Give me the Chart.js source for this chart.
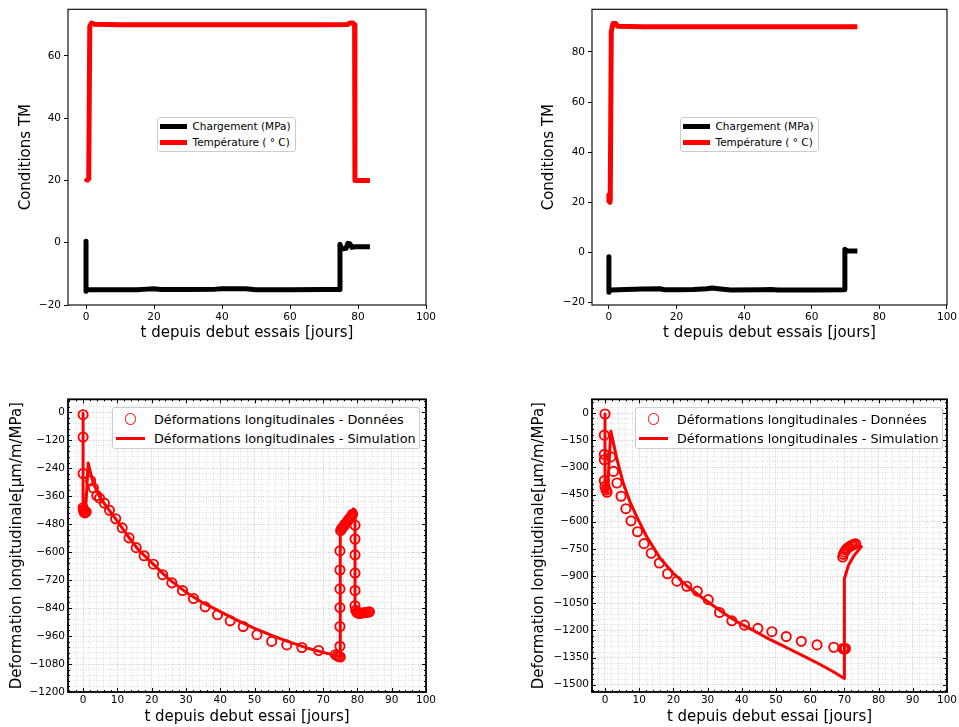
<!DOCTYPE html>
<html>
<head>
<meta charset="utf-8">
<script src="https://cdn.jsdelivr.net/npm/chart.js@4.4.1/dist/chart.umd.min.js"></script>
<style>
  body { margin: 0; background: #fff; }
  #page { position: relative; width: 959px; height: 727px; overflow: hidden; font-family: 'DejaVu Sans', sans-serif; }
  #page canvas { position: absolute; }
  .legend { position: absolute; background: #fff; border: 1px solid #cccccc; border-radius: 3px; box-sizing: border-box; color: #000; }
  .legend .sw, .legend .txt { position: absolute; }
  .legend .txt { white-space: nowrap; transform: translateY(-50%); }
</style>
</head>
<body>
<div id="page"></div>
<script>
// ---- top left : conditions TM, essai 1 ----
const tlLoadT = [0, 0, 0.4, 5, 10, 15, 18, 20, 22, 30, 38, 40, 47, 50, 60, 70, 74.7, 74.7, 75.2, 76.5, 77, 77.6, 78.2, 79, 83.5];
const tlLoadV = [0.5, -15.6, -15, -15.1, -15.1, -15.1, -14.9, -14.8, -15, -15, -14.9, -14.8, -14.8, -15.1, -15.1, -15, -15, -0.5, -2, -1.8, -0.2, -0.3, -1.5, -1.3, -1.3];
const tlTempT = [0, 0.3, 0.8, 1.1, 1.6, 2.5, 10, 30, 50, 70, 77, 77.6, 78.5, 79, 79.1, 80, 83.5];
const tlTempV = [19.5, 20.2, 20.5, 69.5, 70.6, 70.2, 70, 70, 70, 70, 70.1, 70.6, 70.6, 70, 20, 20, 20];

// ---- top right : conditions TM, essai 2 ----
const trLoadT = [0, 0, 0.5, 5, 10, 15, 16.5, 20, 25, 29, 30.5, 33, 36, 45, 48, 50, 60, 69.8, 69.8, 70.5, 73.5];
const trLoadV = [-1.7, -15.9, -15, -14.8, -14.6, -14.5, -14.9, -14.9, -14.8, -14.5, -14.2, -14.6, -15, -14.9, -14.8, -15, -15, -14.9, 1.2, 0.6, 0.5];
const trTempT = [0, 0, 0.3, 0.4, 0.7, 1.2, 2, 2.6, 10, 30, 50, 73.5];
const trTempV = [23, 20.5, 20, 21, 88, 91.3, 91.3, 90.2, 90, 90, 90, 90];

// ---- bottom left : deformations, essai 1 ----
const blDataT = [0, 0, 0, 0, 0.1, 0.2, 0.35, 0.5, 0.7, 0.9, 2.2, 3.0, 4.0, 4.8, 6.2, 7.7, 9.5, 11.4, 13.4, 15.5, 17.8, 20.5, 23.2, 25.9, 29.0, 32.2, 35.6, 39.2, 42.9, 46.7, 50.7, 55.0, 59.4, 63.8, 68.7,
  73.6, 74.1, 74.6, 75.0, 74.9, 74.9, 74.9, 74.9, 74.9, 74.9, 75.1, 75.4, 75.7, 76.0, 76.3, 76.6, 77.0, 77.3, 77.6, 78.0, 78.3, 78.6,
  79.3, 79.3, 79.3, 79.3, 79.3, 79.3, 79.5, 79.8, 80.2, 80.6, 81.0, 81.5, 82.0, 82.5, 83.0, 83.5];
const blDataV = [-11, -107, -263, -410, -418, -425, -430, -432, -430, -428, -294, -325, -358, -369, -390, -421, -457, -496, -539, -581, -616, -652, -697, -732, -765, -799, -835, -869, -895, -919, -954, -983, -998, -1009, -1022,
  -1040, -1045, -1048, -1050, -1004, -919, -838, -758, -677, -595, -508, -500, -495, -489, -483, -477, -470, -464, -458, -452, -446, -438,
  -485, -544, -612, -690, -765, -830, -850, -858, -862, -863, -862, -861, -860, -859, -858, -856];
const blSimT = [0, 0, 0.7, 1.5, 2.2, 3, 5, 7, 10, 13, 16, 20, 25, 30, 35, 40, 45, 50, 55, 60, 65, 70, 74.8, 75, 75, 78.8, 79.3, 79.3, 80, 83.5];
const blSimV = [-5, -430, -430, -218, -262, -305, -368, -408, -467, -530, -588, -645, -716, -772, -818, -855, -893, -927, -957, -985, -1010, -1030, -1048, -1050, -505, -415, -420, -865, -862, -858];

// ---- bottom right : deformations, essai 2 ----
const brDataT = [0, -0.2, -0.2, -0.2, -0.2, 0, 0.3, 0.6, 1.7, 2.5, 3.5, 4.7, 6.1, 7.6, 9.5, 11.4, 13.5, 15.9, 18.3, 21.0, 23.9, 27.0, 30.2, 33.5, 37.1, 40.8, 44.7, 48.8, 53.0, 57.4, 62.0, 66.9,
  69.6, 70.0, 70.3, 69.5, 69.7, 70.0, 70.4, 70.8, 71.3, 71.8, 72.3, 72.8, 73.3];
const brDataV = [-5, -122, -228, -258, -373, -405, -425, -437, -242, -322, -386, -459, -528, -595, -655, -721, -774, -828, -887, -928, -956, -983, -1030, -1101, -1147, -1171, -1189, -1207, -1234, -1260, -1280, -1293,
  -1300, -1305, -1300, -795, -780, -768, -757, -748, -740, -734, -729, -725, -722];
const brSimT = [0, 0, 0.7, 1.7, 3.5, 5.4, 7.35, 9.3, 12.2, 16.1, 19.9, 23.8, 27.7, 31.5, 35.4, 39.3, 43.2, 47, 50.9, 54.8, 58.7, 62.5, 66.4, 70, 70, 71.2, 72.7, 75.2];
const brSimV = [-5, -437, -437, -100, -255, -391, -492, -573, -683, -801, -883, -952, -1010, -1061, -1114, -1160, -1198, -1238, -1274, -1311, -1347, -1384, -1424, -1465, -915, -840, -790, -732];

// ---- ticks ----
const topXTicks = [0, 20, 40, 60, 80, 100];
const tlYTicks = [-20, 0, 20, 40, 60];
const trYTicks = [-20, 0, 20, 40, 60, 80];
const lowXMajor = [0, 10, 20, 30, 40, 50, 60, 70, 80, 90, 100];
const blYMajor = [0, -120, -240, -360, -480, -600, -720, -840, -960, -1080, -1200];
const brYMajor = [0, -150, -300, -450, -600, -750, -900, -1050, -1200, -1350, -1500];

const labelsTop = ['Chargement (MPa)', 'Température ( \u00b0 C)'];
const labelsLow = ['Déformations longitudinales - Données', 'Déformations longitudinales - Simulation'];
const RED = '#ff0000';

Chart.defaults.font.family = "'DejaVu Sans', sans-serif";
Chart.defaults.color = '#000';

const page = document.getElementById('page');

function range(a, b, step) {
    const out = [];
    for (let v = a; v <= b + 1e-9; v += step) out.push(Math.round(v * 1000) / 1000);
    return out;
}

function pts(ts, vs) {
    return ts.map((t, i) => ({ x: t, y: vs[i] }));
}

function fmt(v) {
    return String(v).replace('-', '\u2212');
}

// frame round the plot area + inward ticks for the lower plots
const framePlugin = {
    id: 'frame',
    afterDatasetsDraw(chart, args, opts) {
        const { ctx, chartArea: a } = chart;
        ctx.save();
        if (opts.inTicks) {
            ctx.strokeStyle = '#000';
            ctx.lineWidth = 1;
            ['x', 'y'].forEach(id => {
                const sc = chart.scales[id];
                sc.ticks.forEach(t => {
                    const len = opts.majors[id].includes(t.value) ? 4 : 2;
                    const p = Math.round(sc.getPixelForValue(t.value)) + 0.5;
                    ctx.beginPath();
                    if (id === 'x') {
                        ctx.moveTo(p, a.bottom); ctx.lineTo(p, a.bottom - len);
                        ctx.moveTo(p, a.top); ctx.lineTo(p, a.top + len);
                    } else {
                        ctx.moveTo(a.left, p); ctx.lineTo(a.left + len, p);
                        ctx.moveTo(a.right, p); ctx.lineTo(a.right - len, p);
                    }
                    ctx.stroke();
                });
            });
        }
        ctx.lineWidth = opts.width;
        ctx.strokeStyle = opts.color;
        ctx.strokeRect(a.left, a.top, a.right - a.left, a.bottom - a.top);
        ctx.restore();
    }
};

function axis(o) {
    return {
        type: 'linear',
        position: o.pos,
        min: o.min,
        max: o.max,
        afterBuildTicks: s => { s.ticks = o.ticks.map(v => ({ value: v })); },
        afterFit: s => {
            if (o.pos === 'left') s.width = o.size; else s.height = o.size;
        },
        ticks: {
            autoSkip: false,
            maxRotation: 0,
            padding: o.pad,
            font: { size: 10.5 },
            color: '#000',
            callback: v => (o.major.includes(v) ? fmt(v) : '')
        },
        grid: o.grid,
        border: o.border,
        title: { display: true, text: o.title, color: '#000', font: { size: 15 }, padding: o.titlePad }
    };
}

function makeCanvas(x, y, w, h) {
    const c = document.createElement('canvas');
    c.width = w;
    c.height = h;
    c.style.left = x + 'px';
    c.style.top = y + 'px';
    page.appendChild(c);
    return c;
}

function buildLegend(chart, spec) {
    const box = document.createElement('div');
    box.className = 'legend';
    Object.assign(box.style, {
        left: spec.left + 'px', top: spec.top + 'px',
        width: spec.width + 'px', height: spec.height + 'px'
    });
    chart.data.datasets.forEach((ds, i) => {
        const cy = spec.rowY[i];
        const sw = document.createElement('div');
        sw.className = 'sw';
        if (ds.showLine) {
            Object.assign(sw.style, {
                left: spec.swX + 'px', top: (cy - spec.lw / 2) + 'px',
                width: spec.swW + 'px', height: spec.lw + 'px', background: ds.borderColor
            });
        } else {
            const d = 2 * ds.pointRadius + ds.pointBorderWidth;
            Object.assign(sw.style, {
                left: (spec.swX + spec.swW / 2 - d / 2) + 'px', top: (cy - d / 2) + 'px',
                width: d + 'px', height: d + 'px', boxSizing: 'border-box',
                border: ds.pointBorderWidth + 'px solid ' + ds.pointBorderColor, borderRadius: '50%'
            });
        }
        const txt = document.createElement('div');
        txt.className = 'txt';
        txt.textContent = ds.label;
        Object.assign(txt.style, { left: spec.textX + 'px', top: cy + 'px', fontSize: spec.font + 'px' });
        box.appendChild(sw);
        box.appendChild(txt);
    });
    page.appendChild(box);
}

function topChart(pos, yMin, yMax, yTicks, loadT, loadV, tempT, tempV) {
    const tickGrid = { drawOnChartArea: false, drawTicks: true, tickLength: 4, color: '#000', lineWidth: 1 };
    return new Chart(makeCanvas(pos.x, 0, pos.w, 350), {
        type: 'scatter',
        data: {
            datasets: [
                { label: labelsTop[0], data: pts(loadT, loadV), showLine: true, borderColor: '#000', borderWidth: 5,
                  pointRadius: 0, borderJoinStyle: 'round' },
                { label: labelsTop[1], data: pts(tempT, tempV), showLine: true, borderColor: RED, borderWidth: 5,
                  pointRadius: 0, borderJoinStyle: 'round' }
            ]
        },
        options: {
            responsive: false,
            animation: false,
            events: [],
            layout: { padding: { top: 9, right: pos.w - pos.right, left: 0, bottom: 0 } },
            scales: {
                x: axis({ pos: 'bottom', min: pos.xMin, max: 100, ticks: topXTicks, major: topXTicks, size: 45, pad: 2,
                          grid: tickGrid, border: { display: false },
                          title: 't depuis debut essais [jours]', titlePad: { top: 0, bottom: 8 } }),
                y: axis({ pos: 'left', min: yMin, max: yMax, ticks: yTicks, major: yTicks, size: pos.left, pad: 3,
                          grid: tickGrid, border: { display: false },
                          title: 'Conditions TM', titlePad: { top: pos.titleX - 9, bottom: 0 } })
            },
            plugins: {
                legend: { display: false },
                tooltip: { enabled: false },
                frame: { width: 1.2, color: '#111', inTicks: false }
            }
        },
        plugins: [framePlugin]
    });
}

function lowChart(pos, yMin, yMax, yMajor, yStep, dataT, dataV, simT, simV) {
    const xTicks = range(-4, 100, 2);
    const yTicks = range(Math.ceil(yMin / yStep) * yStep, yMax, yStep);
    const gridX = { drawTicks: false, lineWidth: 0.8,
                    color: c => (lowXMajor.includes(c.tick && c.tick.value) ? '#bdbdbd' : '#d6d6d6') };
    const gridY = { drawTicks: false, lineWidth: 0.8,
                    color: c => (yMajor.includes(c.tick && c.tick.value) ? '#bdbdbd' : '#d6d6d6') };
    const dotted = { display: false, dash: [1, 1.5] };
    return new Chart(makeCanvas(pos.x, 390, pos.w, 337), {
        type: 'scatter',
        data: {
            datasets: [
                { label: labelsLow[0], data: pts(dataT, dataV), showLine: false, order: 2,
                  pointRadius: 4.6, pointBorderWidth: 1.9, pointBorderColor: RED, pointBackgroundColor: 'rgba(0,0,0,0)' },
                { label: labelsLow[1], data: pts(simT, simV), showLine: true, order: 1,
                  borderColor: RED, borderWidth: 3, pointRadius: 0, borderJoinStyle: 'round' }
            ]
        },
        options: {
            responsive: false,
            animation: false,
            events: [],
            layout: { padding: { top: 6, right: pos.w - pos.right, left: 0, bottom: 0 } },
            scales: {
                x: axis({ pos: 'bottom', min: pos.xMin, max: 100, ticks: xTicks, major: lowXMajor, size: 35, pad: 2,
                          grid: gridX, border: dotted,
                          title: 't depuis debut essai [jours]', titlePad: { top: 0, bottom: 1 } }),
                y: axis({ pos: 'left', min: yMin, max: yMax, ticks: yTicks, major: yMajor, size: pos.left, pad: 3,
                          grid: gridY, border: dotted,
                          title: 'Deformation longitudinale[\u03bcm/m/MPa]', titlePad: { top: pos.titleX - 9, bottom: 0 } })
            },
            plugins: {
                legend: { display: false },
                tooltip: { enabled: false },
                frame: { width: 1.8, color: '#000', inTicks: true, majors: { x: lowXMajor, y: yMajor } }
            }
        },
        plugins: [framePlugin]
    });
}

const tl = topChart({ x: 0, w: 480, left: 68, right: 426, xMin: -5.3, titleX: 26 }, -20, 75, tlYTicks, tlLoadT, tlLoadV, tlTempT, tlTempV);
const tr = topChart({ x: 480, w: 479, left: 112, right: 469, xMin: -5.0, titleX: 69.5 }, -21, 97, trYTicks, trLoadT, trLoadV, trTempT, trTempV);
const bl = lowChart({ x: 0, w: 480, left: 68, right: 426, xMin: -4.4, titleX: 17.5 }, -1200, 55, blYMajor, 24, blDataT, blDataV, blSimT, blSimV);
const br = lowChart({ x: 480, w: 479, left: 112, right: 469, xMin: -3.8, titleX: 59 }, -1540, 76, brYMajor, 30, brDataT, brDataV, brSimT, brSimV);

const topLeg = { width: 139, height: 35, rowY: [8, 24], swX: 2, swW: 26.5, textX: 34.5, lw: 5, font: 10.5 };
const lowLeg = { width: 308, height: 42, rowY: [11, 30], swX: 3, swW: 29, textX: 41, lw: 3, font: 12.8 };
buildLegend(tl, Object.assign({ left: 157, top: 117 }, topLeg));
buildLegend(tr, Object.assign({ left: 680, top: 117 }, topLeg));
buildLegend(bl, Object.assign({ left: 112, top: 407 }, lowLeg));
buildLegend(br, Object.assign({ left: 635, top: 407 }, lowLeg));
</script>
</body>
</html>
